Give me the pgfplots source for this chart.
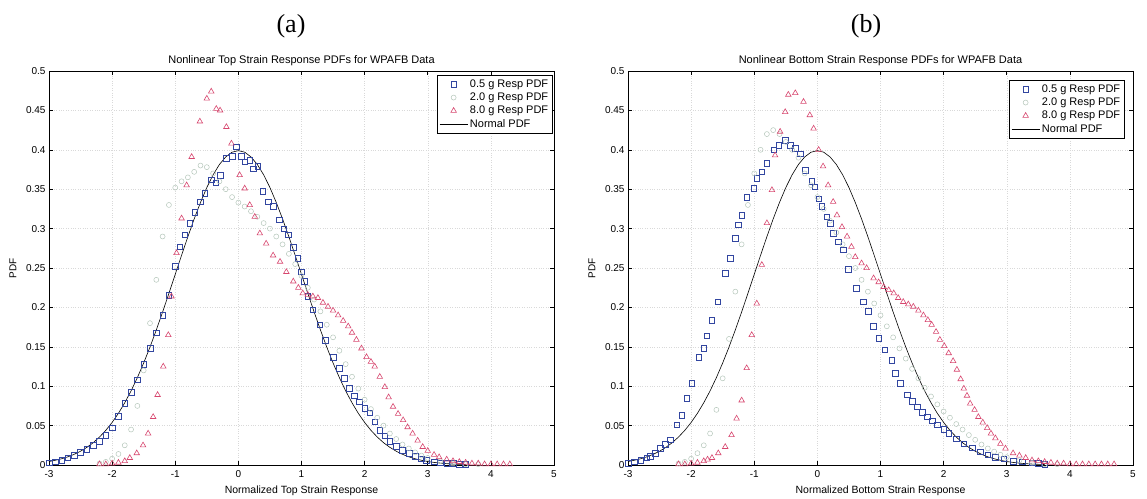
\documentclass[border=0pt]{standalone}
\usepackage{fontspec}
\setmainfont{Liberation Sans}
\newfontfamily\seriffont{Liberation Serif}
\usepackage{pgfplots}
\usepackage{pgfplotstable}
\pgfplotsset{compat=1.18}
\definecolor{sqc}{RGB}{50,70,160}
\definecolor{cic}{RGB}{180,198,186}
\definecolor{trc}{RGB}{215,70,110}

\pgfplotstableread{
x y
-3.0 0.0044
-2.9 0.0060
-2.8 0.0079
-2.7 0.0104
-2.6 0.0136
-2.5 0.0175
-2.4 0.0224
-2.3 0.0283
-2.2 0.0355
-2.1 0.0440
-2.0 0.0540
-1.9 0.0656
-1.8 0.0790
-1.7 0.0940
-1.6 0.1109
-1.5 0.1295
-1.4 0.1497
-1.3 0.1714
-1.2 0.1942
-1.1 0.2179
-1.0 0.2420
-0.9 0.2661
-0.8 0.2897
-0.7 0.3123
-0.6 0.3332
-0.5 0.3521
-0.4 0.3683
-0.3 0.3814
-0.2 0.3910
-0.1 0.3970
0.0 0.3989
0.1 0.3970
0.2 0.3910
0.3 0.3814
0.4 0.3683
0.5 0.3521
0.6 0.3332
0.7 0.3123
0.8 0.2897
0.9 0.2661
1.0 0.2420
1.1 0.2179
1.2 0.1942
1.3 0.1714
1.4 0.1497
1.5 0.1295
1.6 0.1109
1.7 0.0940
1.8 0.0790
1.9 0.0656
2.0 0.0540
2.1 0.0440
2.2 0.0355
2.3 0.0283
2.4 0.0224
2.5 0.0175
2.6 0.0136
2.7 0.0104
2.8 0.0079
2.9 0.0060
3.0 0.0044
3.1 0.0033
3.2 0.0024
3.3 0.0017
3.4 0.0012
3.5 0.0009
3.6 0.0006
}\normaltab

\pgfplotsset{
 myaxis/.style={
  scale only axis, width=505pt, height=394pt,
  xmin=-3, xmax=5, ymin=0, ymax=0.5,
  xtick={-3,-2,...,5},
  ytick={0,0.05,0.1,0.15,0.2,0.25,0.3,0.35,0.4,0.45,0.5},
  yticklabels={0,0.05,0.1,0.15,0.2,0.25,0.3,0.35,0.4,0.45,0.5},
  tick align=inside, major tick length=4pt,
  grid=major, major grid style={dotted, gray!30, line width=0.5pt},
  axis line style={line width=0.7pt},
  tick style={line width=0.6pt, black},
  /pgf/number format/assume math mode=true,
  ticklabel style={font=\fontsize{10}{11}\selectfont},
  xticklabel style={yshift=-2pt},
  every axis title shift=0pt,
  title style={at={(0.5,1)}, anchor=base, yshift=7pt, font=\fontsize{11}{13}\selectfont},
  xlabel style={at={(0.5,0)}, anchor=base, yshift=-28pt, font=\fontsize{10.5}{12}\selectfont},
  ylabel style={at={(-0.0713,0.5)}, anchor=center, font=\fontsize{10}{11}\selectfont},
  legend style={at={(1,1)}, anchor=north east, xshift=-1pt, yshift=-4pt,
    font=\fontsize{11}{12.5}\selectfont, draw=black, line width=0.6pt,
    inner sep=2.5pt, row sep=0pt, cells={anchor=west}},
  legend cell align=left,
  legend image code/.code={\draw[mark repeat=2,mark phase=2,#1] plot coordinates {(0pt,0pt) (14pt,0pt) (28pt,0pt)};},
  clip=false,
 },
 sq/.style={only marks, mark=square, mark size=2.8pt, sqc, mark options={line width=0.6pt}},
 ci/.style={only marks, mark=o, mark size=2.5pt, cic, mark options={line width=0.5pt}},
 tr/.style={only marks, mark=triangle, mark size=3.2pt, trc, mark options={line width=0.6pt}},
 nl/.style={black, line width=0.6pt, no marks},
}

\begin{document}
\begin{tikzpicture}[x=1pt,y=1pt]
\useasboundingbox (0,0) rectangle (1147,498);
\node[font=\seriffont\fontsize{26}{28}\selectfont] at (291,472) {(a)};
\node[font=\seriffont\fontsize{26}{28}\selectfont] at (866,472) {(b)};

\begin{axis}[myaxis, at={(49pt,33pt)}, anchor=south west,
  title={Nonlinear Top Strain Response PDFs for WPAFB Data},
  xlabel={Normalized Top Strain Response}, ylabel={PDF}]
\addplot[sq] coordinates {
(-3.0,0.003) (-2.9,0.004) (-2.8,0.006) (-2.7,0.009) (-2.6,0.012) (-2.5,0.016)
(-2.4,0.020) (-2.3,0.025) (-2.2,0.030) (-2.1,0.038) (-2.0,0.047) (-1.9,0.062)
(-1.8,0.078) (-1.7,0.092) (-1.6,0.108) (-1.5,0.128) (-1.4,0.148) (-1.3,0.168)
(-1.2,0.190) (-1.1,0.215) (-1.0,0.252) (-0.93,0.277) (-0.85,0.292) (-0.77,0.307)
(-0.69,0.321) (-0.6,0.334) (-0.53,0.345) (-0.43,0.362) (-0.36,0.358) (-0.29,0.368)
(-0.19,0.389) (-0.1,0.392) (-0.03,0.404) (0.05,0.392) (0.1,0.385) (0.18,0.387)
(0.24,0.376) (0.31,0.379) (0.39,0.347) (0.47,0.334) (0.55,0.328) (0.65,0.311)
(0.72,0.300) (0.79,0.292) (0.87,0.276) (0.94,0.262) (1.0,0.245) (1.04,0.233)
(1.1,0.214) (1.18,0.197) (1.29,0.178) (1.38,0.158) (1.5,0.137) (1.6,0.123)
(1.68,0.110) (1.76,0.097) (1.84,0.088) (1.92,0.080) (2.0,0.072) (2.08,0.066)
(2.16,0.055) (2.24,0.044) (2.32,0.037) (2.4,0.030) (2.5,0.024) (2.6,0.019)
(2.71,0.015) (2.8,0.011) (2.9,0.008) (2.98,0.006) (3.1,0.004) (3.2,0.003)
(3.3,0.002) (3.4,0.002) (3.5,0.001) (3.6,0.001)};
\addlegendentry{0.5 g Resp PDF}
\addplot[ci] coordinates {
(-2.2,0.002) (-2.1,0.004) (-2.0,0.008) (-1.9,0.014) (-1.8,0.025) (-1.7,0.045)
(-1.6,0.075) (-1.5,0.12) (-1.4,0.18) (-1.3,0.235) (-1.2,0.29) (-1.1,0.33)
(-1.0,0.352) (-0.9,0.36) (-0.8,0.365) (-0.7,0.372) (-0.6,0.38) (-0.5,0.378)
(-0.4,0.37) (-0.3,0.36) (-0.2,0.35) (-0.1,0.34) (0.0,0.333) (0.1,0.328)
(0.2,0.322) (0.3,0.315) (0.4,0.307) (0.5,0.30) (0.6,0.29) (0.7,0.28)
(0.8,0.268) (0.9,0.255) (1.0,0.24) (1.1,0.225) (1.2,0.21) (1.3,0.195)
(1.4,0.178) (1.5,0.162) (1.6,0.145) (1.7,0.128) (1.8,0.112) (1.9,0.097)
(2.0,0.083) (2.1,0.071) (2.2,0.06) (2.3,0.05) (2.4,0.04) (2.5,0.033)
(2.6,0.026) (2.7,0.021) (2.8,0.016) (2.9,0.012) (3.0,0.009) (3.2,0.005)
(3.4,0.002) (3.6,0.001) (3.8,0.001)};
\addlegendentry{2.0 g Resp PDF}
\addplot[tr] coordinates {
(-2.2,0.001) (-2.1,0.001) (-2.0,0.002) (-1.9,0.003) (-1.8,0.005) (-1.72,0.009)
(-1.61,0.015) (-1.51,0.025) (-1.43,0.040) (-1.35,0.061) (-1.28,0.089) (-1.19,0.125)
(-1.11,0.165) (-1.06,0.214) (-0.98,0.269) (-0.90,0.313) (-0.82,0.355) (-0.74,0.391)
(-0.61,0.436) (-0.5,0.465) (-0.43,0.474) (-0.35,0.452) (-0.29,0.450) (-0.19,0.429)
(-0.11,0.408) (0.02,0.368) (0.10,0.351) (0.18,0.330) (0.26,0.315) (0.34,0.294)
(0.44,0.281) (0.55,0.266) (0.66,0.258) (0.76,0.245) (0.87,0.233) (0.95,0.225)
(1.02,0.218) (1.1,0.216) (1.18,0.214) (1.26,0.212) (1.34,0.206) (1.42,0.201)
(1.5,0.196) (1.58,0.190) (1.66,0.183) (1.74,0.176) (1.80,0.168) (1.87,0.159)
(1.95,0.148) (2.03,0.137) (2.1,0.131) (2.16,0.125) (2.24,0.112) (2.32,0.099)
(2.38,0.086) (2.45,0.074) (2.53,0.065) (2.61,0.057) (2.68,0.048) (2.76,0.040)
(2.84,0.031) (2.92,0.023) (3.0,0.018) (3.1,0.013) (3.18,0.010) (3.3,0.007)
(3.4,0.005) (3.5,0.004) (3.6,0.003) (3.7,0.002) (3.8,0.002) (3.9,0.001)
(4.0,0.001) (4.1,0.001) (4.2,0.001) (4.3,0.001)};
\addlegendentry{8.0 g Resp PDF}
\addplot[nl] table {\normaltab};
\addlegendentry{Normal PDF}
\end{axis}

\begin{axis}[myaxis, at={(628pt,33pt)}, anchor=south west,
  legend style={xshift=-7pt, yshift=-5pt},
  title={Nonlinear Bottom Strain Response PDFs for WPAFB Data},
  xlabel={Normalized Bottom Strain Response}, ylabel={PDF}]
\addplot[sq] coordinates {
(-3.0,0.002) (-2.9,0.004) (-2.8,0.006) (-2.7,0.009) (-2.65,0.011) (-2.57,0.015)
(-2.49,0.021) (-2.41,0.026) (-2.33,0.032) (-2.23,0.051) (-2.15,0.063) (-2.07,0.085)
(-1.99,0.104) (-1.88,0.137) (-1.80,0.148) (-1.75,0.164) (-1.67,0.184) (-1.58,0.207)
(-1.46,0.243) (-1.38,0.262) (-1.30,0.288) (-1.25,0.305) (-1.20,0.317) (-1.12,0.340)
(-1.01,0.351) (-0.96,0.364) (-0.88,0.372) (-0.80,0.383) (-0.69,0.400) (-0.61,0.406)
(-0.51,0.412) (-0.43,0.406) (-0.35,0.402) (-0.27,0.395) (-0.19,0.374) (-0.09,0.360)
(-0.04,0.353) (0.02,0.338) (0.07,0.328) (0.15,0.315) (0.20,0.307) (0.25,0.294)
(0.33,0.283) (0.41,0.273) (0.49,0.248) (0.62,0.224) (0.73,0.207) (0.81,0.195)
(0.89,0.176) (0.97,0.161) (1.07,0.146) (1.18,0.133) (1.23,0.116) (1.31,0.104)
(1.42,0.089) (1.50,0.081) (1.58,0.074) (1.66,0.067) (1.74,0.061) (1.82,0.056)
(1.90,0.051) (2.0,0.045) (2.08,0.040) (2.2,0.033) (2.32,0.027) (2.45,0.022)
(2.58,0.017) (2.7,0.013) (2.82,0.010) (2.95,0.008) (3.1,0.005) (3.25,0.004)
(3.4,0.003) (3.5,0.002) (3.6,0.001)};
\addlegendentry{0.5 g Resp PDF}
\addplot[ci] coordinates {
(-2.2,0.002) (-2.1,0.004) (-2.0,0.008) (-1.9,0.015) (-1.8,0.025) (-1.7,0.04)
(-1.6,0.07) (-1.5,0.11) (-1.4,0.16) (-1.3,0.22) (-1.2,0.28) (-1.1,0.33)
(-1.0,0.37) (-0.9,0.40) (-0.8,0.42) (-0.7,0.425) (-0.6,0.42) (-0.5,0.41)
(-0.4,0.40) (-0.3,0.39) (-0.2,0.37) (-0.1,0.355) (0.0,0.34) (0.1,0.325)
(0.2,0.31) (0.3,0.295) (0.4,0.28) (0.5,0.265) (0.6,0.25) (0.7,0.235)
(0.8,0.22) (0.9,0.205) (1.0,0.19) (1.1,0.176) (1.2,0.162) (1.3,0.148)
(1.4,0.135) (1.5,0.122) (1.6,0.11) (1.7,0.098) (1.8,0.087) (1.9,0.077)
(2.0,0.068) (2.1,0.06) (2.2,0.052) (2.3,0.045) (2.4,0.038) (2.5,0.032)
(2.6,0.026) (2.7,0.021) (2.8,0.017) (2.9,0.013) (3.0,0.01) (3.2,0.006)
(3.4,0.003) (3.6,0.001) (3.8,0.001)};
\addlegendentry{2.0 g Resp PDF}
\addplot[tr] coordinates {
(-2.2,0.001) (-2.1,0.001) (-2.0,0.002) (-1.9,0.003) (-1.8,0.005) (-1.74,0.007)
(-1.67,0.009) (-1.57,0.015) (-1.46,0.023) (-1.36,0.038) (-1.28,0.059) (-1.20,0.082)
(-1.12,0.123) (-1.04,0.165) (-0.96,0.205) (-0.88,0.254) (-0.80,0.307) (-0.72,0.349)
(-0.67,0.393) (-0.59,0.423) (-0.51,0.448) (-0.46,0.470) (-0.35,0.472) (-0.22,0.461)
(-0.12,0.444) (-0.06,0.427) (0.02,0.400) (0.09,0.379) (0.17,0.355) (0.25,0.334)
(0.31,0.317) (0.39,0.302) (0.47,0.290) (0.54,0.277) (0.60,0.264) (0.70,0.256)
(0.78,0.250) (0.89,0.237) (0.97,0.232) (1.05,0.226) (1.13,0.222) (1.21,0.218)
(1.28,0.212) (1.36,0.207) (1.44,0.204) (1.52,0.201) (1.60,0.196) (1.68,0.190)
(1.75,0.184) (1.81,0.178) (1.88,0.169) (1.94,0.159) (2.01,0.151) (2.08,0.142)
(2.15,0.132) (2.21,0.121) (2.27,0.109) (2.32,0.097) (2.37,0.088) (2.42,0.078)
(2.49,0.070) (2.55,0.061) (2.62,0.054) (2.69,0.047) (2.75,0.040) (2.82,0.034)
(2.9,0.027) (2.98,0.021) (3.1,0.015) (3.2,0.012) (3.3,0.009) (3.4,0.006)
(3.5,0.005) (3.6,0.004) (3.7,0.003) (3.8,0.002) (3.9,0.002) (4.0,0.001)
(4.1,0.001) (4.2,0.001) (4.3,0.001) (4.4,0.001) (4.5,0.001) (4.6,0.001) (4.7,0.001)};
\addlegendentry{8.0 g Resp PDF}
\addplot[nl] table {\normaltab};
\addlegendentry{Normal PDF}
\end{axis}
\end{tikzpicture}
\end{document}
